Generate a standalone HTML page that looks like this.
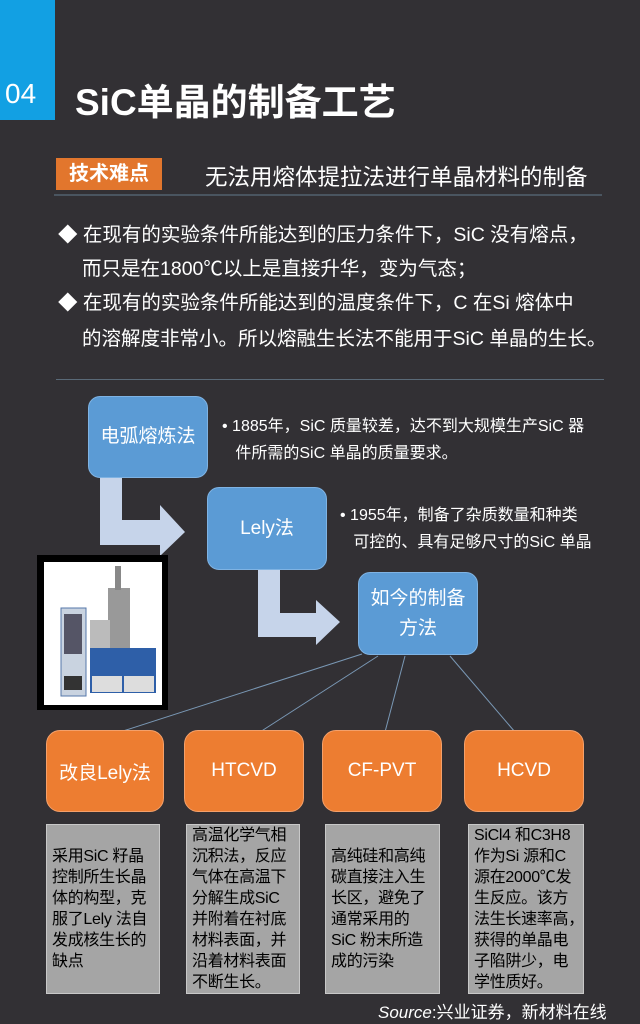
<!DOCTYPE html>
<html><head><meta charset="utf-8"><style>
*{margin:0;padding:0;box-sizing:border-box}
body{width:640px;height:1024px;background:#323034;position:relative;overflow:hidden;font-family:"Liberation Sans","Noto Sans CJK SC",sans-serif;color:#fff}
.a{position:absolute;white-space:nowrap}
.bb{position:absolute;background:#5b9bd5;border:1px solid #7fb3e3;border-radius:12px;display:flex;align-items:center;justify-content:center;text-align:center;font-size:19px;line-height:30px;color:#fff}
.ob{position:absolute;background:#ed7d31;border:1px solid #f4a06a;border-radius:14px;display:flex;align-items:center;justify-content:center;font-size:19px;color:#fff;top:730px;height:82px}
.gb{position:absolute;background:#a5a5a5;border:1px solid #c8c8c8;top:824px;height:170px;color:#000;font-size:16px;line-height:21px;padding:0 0 0 5px;display:flex;align-items:center;white-space:nowrap;letter-spacing:-0.3px}
.t{font-size:19.5px;line-height:34px}
</style></head><body>
<div class="a" style="left:0;top:0;width:55px;height:120px;background:#12a0e3"></div>
<div class="a" style="left:5px;top:78px;font-size:28px;color:#fff">04</div>
<div class="a" style="left:75px;top:72px;font-size:37px;font-weight:bold">SiC单晶的制备工艺</div>
<div class="a" style="left:56px;top:158px;width:106px;height:32px;background:#e2762d;font-size:20px;font-weight:bold;text-align:center;line-height:32px">技术难点</div>
<div class="a" style="left:205px;top:160px;font-size:22.5px">无法用熔体提拉法进行单晶材料的制备</div>
<div class="a" style="left:54px;top:194px;width:548px;height:2px;background:#4a5560"></div>
<div class="a t" style="left:58px;top:218px">◆ 在现有的实验条件所能达到的压力条件下，SiC 没有熔点，</div>
<div class="a t" style="left:82px;top:252px">而只是在1800℃以上是直接升华，变为气态；</div>
<div class="a t" style="left:58px;top:286px">◆ 在现有的实验条件所能达到的温度条件下，C 在Si 熔体中</div>
<div class="a t" style="left:82px;top:322px">的溶解度非常小。所以熔融生长法不能用于SiC 单晶的生长。</div>
<div class="a" style="left:56px;top:379px;width:548px;height:1px;background:#5a6a78"></div>
<svg class="a" style="left:0;top:0" width="640" height="1024">
<path d="M100 478 H122 V520 H160 V505 L185 532 L160 556 V545 H100 Z" fill="#c6d4ea"/>
<path d="M258 570 H280 V613 H316 V600 L340 622 L316 645 V637 H258 Z" fill="#c6d4ea"/>
<g stroke="#7a98b5" stroke-width="1" fill="none">
<line x1="362" y1="654" x2="120" y2="732"/><line x1="378" y1="656" x2="260" y2="732"/>
<line x1="405" y1="656" x2="385" y2="732"/><line x1="450" y1="656" x2="515" y2="732"/>
</g>
<rect x="37" y="555" width="131" height="155" fill="#000"/>
<rect x="44" y="562" width="118" height="143" fill="#fff"/>
<rect x="61" y="608" width="25" height="88" fill="#c9d3e0" stroke="#5577aa"/>
<rect x="64" y="614" width="18" height="40" fill="#556"/>
<rect x="64" y="676" width="18" height="14" fill="#333"/>
<rect x="90" y="648" width="66" height="45" fill="#2e5fa8"/>
<rect x="92" y="676" width="30" height="16" fill="#ddd"/><rect x="124" y="676" width="30" height="16" fill="#ddd"/>
<rect x="108" y="588" width="22" height="60" fill="#999"/>
<rect x="115" y="566" width="6" height="24" fill="#888"/>
<rect x="90" y="620" width="20" height="28" fill="#bbb"/>
</svg>
<div class="bb" style="left:88px;top:396px;width:120px;height:82px">电弧熔炼法</div>
<div class="bb" style="left:207px;top:487px;width:120px;height:83px">Lely法</div>
<div class="bb" style="left:358px;top:572px;width:120px;height:83px">如今的制备<br>方法</div>
<div class="a" style="left:222px;top:413px;font-size:16px;line-height:27px">• 1885年，SiC 质量较差，达不到大规模生产SiC 器<br>&nbsp;&nbsp;&nbsp;件所需的SiC 单晶的质量要求。</div>
<div class="a" style="left:340px;top:502px;font-size:16px;line-height:27px">• 1955年，制备了杂质数量和种类<br>&nbsp;&nbsp;&nbsp;可控的、具有足够尺寸的SiC 单晶</div>
<div class="ob" style="left:46px;width:118px">改良Lely法</div>
<div class="ob" style="left:184px;width:120px">HTCVD</div>
<div class="ob" style="left:322px;width:120px">CF-PVT</div>
<div class="ob" style="left:464px;width:120px">HCVD</div>
<div class="gb" style="left:46px;width:114px">采用SiC 籽晶<br>控制所生长晶<br>体的构型，克<br>服了Lely 法自<br>发成核生长的<br>缺点</div>
<div class="gb" style="left:186px;width:114px">高温化学气相<br>沉积法，反应<br>气体在高温下<br>分解生成SiC<br>并附着在衬底<br>材料表面，并<br>沿着材料表面<br>不断生长。</div>
<div class="gb" style="left:325px;width:115px">高纯硅和高纯<br>碳直接注入生<br>长区，避免了<br>通常采用的<br>SiC 粉末所造<br>成的污染</div>
<div class="gb" style="left:468px;width:116px">SiCl4 和C3H8<br>作为Si 源和C<br>源在2000℃发<br>生反应。该方<br>法生长速率高，<br>获得的单晶电<br>子陷阱少，电<br>学性质好。</div>
<div class="a" style="left:378px;top:998px;font-size:17px"><i>Source</i>:兴业证券，新材料在线</div>
</body></html>
